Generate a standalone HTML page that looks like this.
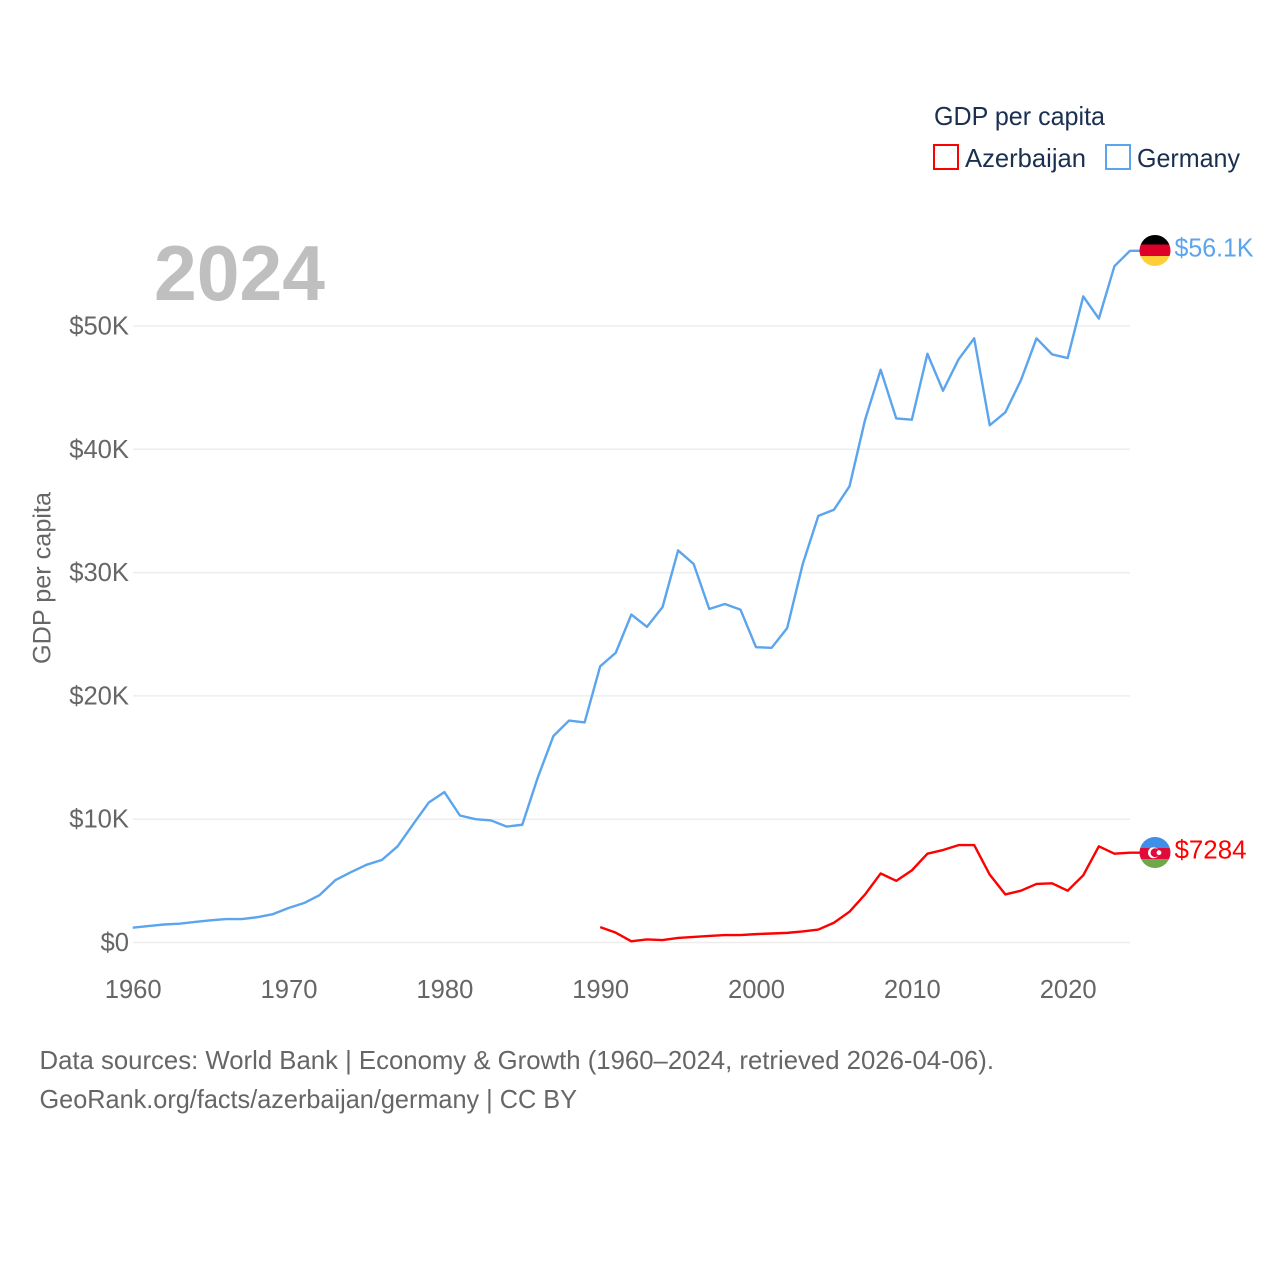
<!DOCTYPE html>
<html lang="en">
<head>
<meta charset="utf-8">
<title>GDP per capita: Azerbaijan and Germany</title>
<style>
html,body{margin:0;padding:0;background:#fff;}
svg{display:block;font-family:"Liberation Sans",sans-serif;}
</style>
</head>
<body>
<svg id="chart" xmlns="http://www.w3.org/2000/svg" width="1280" height="1280" viewBox="0 0 1280 1280">
  <defs>
    <clipPath id="clip-de"><circle cx="1155" cy="250.5" r="15.5"/></clipPath>
    <clipPath id="clip-az"><circle cx="1155" cy="852.5" r="15.5"/></clipPath>
  </defs>
  <rect width="1280" height="1280" fill="#fff"/>
  <g id="grid"></g>
  <g id="yticks"></g>
  <g id="xticks"></g>
  <text x="50.5" y="578" transform="rotate(-90 50.5 578)" text-anchor="middle" font-size="25" fill="#666" textLength="172" lengthAdjust="spacingAndGlyphs">GDP per capita</text>
  <text x="154" y="300" font-size="78" font-weight="700" fill="#bfbfbf" textLength="171" lengthAdjust="spacingAndGlyphs">2024</text>
  <g id="series"></g>

  <g>
    <text x="934" y="125" font-size="26" fill="#1a3050" textLength="171" lengthAdjust="spacingAndGlyphs">GDP per capita</text>
    <rect x="934" y="145" width="24" height="24" fill="none" stroke="#ff0000" stroke-width="2"/>
    <text x="965" y="167" font-size="26" fill="#1a3050" textLength="121" lengthAdjust="spacingAndGlyphs">Azerbaijan</text>
    <rect x="1106" y="145" width="24" height="24" fill="none" stroke="#5ba4ee" stroke-width="2"/>
    <text x="1137" y="167" font-size="26" fill="#1a3050" textLength="103" lengthAdjust="spacingAndGlyphs">Germany</text>
  </g>

  <g clip-path="url(#clip-de)">
    <rect x="1139" y="234" width="32" height="10.5" fill="#000"/>
    <rect x="1139" y="244.5" width="32" height="11.5" fill="#dd0029"/>
    <rect x="1139" y="256" width="32" height="11" fill="#ffce3a"/>
  </g>
  <g clip-path="url(#clip-az)">
    <rect x="1139" y="836" width="32" height="12" fill="#3f8fe8"/>
    <rect x="1139" y="848" width="32" height="11" fill="#e00b3a"/>
    <rect x="1139" y="859" width="32" height="10" fill="#6fa84a"/>
    <circle cx="1153.5" cy="852.7" r="5.5" fill="#fff"/>
    <circle cx="1155" cy="852.7" r="4.4" fill="#e00b3a"/>
    <circle cx="1159" cy="852.7" r="2.4" fill="#fff"/>
  </g>
  <text id="label-de" x="1174.5" y="256.5" font-size="25.6" fill="#5ba4ee" textLength="79" lengthAdjust="spacingAndGlyphs"></text>
  <text id="label-az" x="1174.5" y="858.5" font-size="25.6" fill="#ff0000" textLength="72" lengthAdjust="spacingAndGlyphs"></text>

  <text x="39.5" y="1069" font-size="25.6" fill="#666" textLength="954.5" lengthAdjust="spacingAndGlyphs">Data sources: World Bank | Economy &amp; Growth (1960–2024, retrieved 2026-04-06).</text>
  <text x="39.5" y="1108" font-size="25.6" fill="#666" textLength="537.5" lengthAdjust="spacingAndGlyphs">GeoRank.org/facts/azerbaijan/germany | CC BY</text>
</svg>
<script>
const germanyStartYear = 1960;
const germanyValues = [1.2,1.33,1.46,1.53,1.67,1.8,1.9,1.9,2.05,2.3,2.8,3.2,3.85,5.05,5.7,6.3,6.7,7.8,9.6,11.35,12.2,10.3,10.0,9.9,9.4,9.55,13.4,16.75,18.0,17.85,22.4,23.5,26.6,25.6,27.2,31.8,30.7,27.05,27.45,27.0,23.95,23.9,25.5,30.7,34.6,35.1,37.0,42.4,46.45,42.5,42.4,47.75,44.75,47.3,49.0,41.95,43.0,45.6,49.0,47.7,47.4,52.4,50.6,54.85,56.1];
const azerbaijanStartYear = 1990;
const azerbaijanValues = [1.25,0.8,0.1,0.25,0.2,0.37,0.45,0.53,0.6,0.6,0.68,0.73,0.78,0.9,1.05,1.6,2.5,3.9,5.6,5.0,5.85,7.2,7.5,7.9,7.9,5.5,3.9,4.2,4.75,4.8,4.2,5.45,7.8,7.2,7.284];
const yTickValues = [0,10,20,30,40,50];
const yTickLabels = ["$0","$10K","$20K","$30K","$40K","$50K"];
const xTickValues = [1960,1970,1980,1990,2000,2010,2020];
const xTickLabels = ["1960","1970","1980","1990","2000","2010","2020"];

const NS = "http://www.w3.org/2000/svg";
function xScale(year){ return 132.7 + (year - 1960) * (1130 - 132.7) / 64; }
function yScale(v){ return 942.5 - v * (942.5 - 326) / 50; }
function make(tag, attrs, parent){
  const el = document.createElementNS(NS, tag);
  for (const k in attrs) el.setAttribute(k, attrs[k]);
  parent.appendChild(el);
  return el;
}
const grid = document.getElementById("grid");
const yticks = document.getElementById("yticks");
const xticks = document.getElementById("xticks");
const series = document.getElementById("series");

yTickValues.forEach(function(v, i){
  const line = make("line", {x1:133, x2:1130, y1:yScale(v), y2:yScale(v), stroke:"#ededed", "stroke-width":1.5}, grid);
  
  
  const t = make("text", {x:129, y:yScale(v)+8.5, "text-anchor":"end", "font-size":25.6, fill:"#666"}, yticks);
  
  
  t.textContent = yTickLabels[i];
});
xTickValues.forEach(function(y, i){
  const t = make("text", {x:xScale(y)+0.5, y:998, "text-anchor":"middle", "font-size":25.6, fill:"#666"}, xticks);
  
  
  t.textContent = xTickLabels[i];
});
function linePath(values, startYear){
  return values.map(function(v, i){
    return (i ? "L" : "M") + xScale(startYear + i).toFixed(2) + " " + yScale(v).toFixed(2);
  }).join(" ");
}
function drawSeries(values, startYear, color){
  const p = make("path", {d:linePath(values, startYear) + " H1141", fill:"none", stroke:color, "stroke-width":2.4, "stroke-linejoin":"round"}, series);
  return p;
}
const germanyLine = drawSeries(germanyValues, germanyStartYear, "#5ba4ee");


const azerbaijanLine = drawSeries(azerbaijanValues, azerbaijanStartYear, "#ff0000");



function fmt(v){ return v >= 10 ? "$" + v.toFixed(1) + "K" : "$" + Math.round(v * 1000); }
document.getElementById("label-de").textContent = fmt(germanyValues[germanyValues.length - 1]);
document.getElementById("label-az").textContent = fmt(azerbaijanValues[azerbaijanValues.length - 1]);
</script>
</body>
</html>
